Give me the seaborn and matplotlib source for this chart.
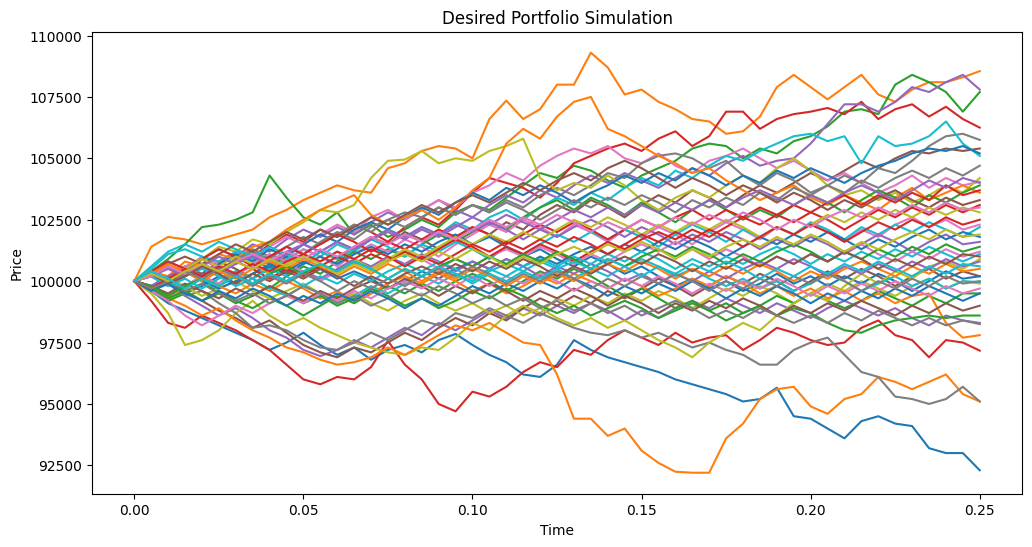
import numpy as np
import pandas as pd
import matplotlib
matplotlib.use("Agg")
import matplotlib.pyplot as plt
import seaborn as sns

# Simulated portfolio paths (prices in thousands),
# one value every 0.005 of the 0.25 horizon
p00 = [100.0, 99.6, 99.1, 98.8, 98.5, 98.2, 97.9, 97.6, 97.2, 97.5,
       97.9, 97.4, 97.0, 97.3, 96.8, 97.2, 97.4, 97.1, 97.6, 97.85,
       97.4, 97.0, 96.7, 96.2, 96.1, 96.6, 97.6, 97.2, 96.9, 96.7,
       96.5, 96.3, 96.0, 95.8, 95.6, 95.4, 95.1, 95.2, 95.66, 94.5,
       94.4, 94.0, 93.6, 94.3, 94.5, 94.2, 94.1, 93.2, 93.0, 93.0,
       92.3]
p01 = [100.0, 101.4, 101.8, 101.7, 101.5, 101.7, 101.9, 102.1, 102.6, 102.9,
       103.3, 103.6, 103.9, 103.7, 103.6, 104.6, 104.8, 105.3, 105.5, 105.4,
       105.0, 106.6, 107.35, 106.6, 107.0, 108.0, 108.0, 109.3, 108.7, 107.6,
       107.8, 107.3, 107.0, 106.6, 106.5, 106.0, 106.1, 106.7, 107.9, 108.4,
       107.9, 107.4, 107.9, 108.4, 107.6, 107.3, 107.8, 108.1, 108.1, 108.3,
       108.55]
p02 = [100.0, 100.4, 100.9, 101.5, 102.2, 102.3, 102.5, 102.8, 104.3, 103.4,
       102.6, 102.3, 102.8, 101.9, 102.3, 101.8, 102.1, 102.5, 102.2, 102.8,
       103.1, 102.9, 103.4, 103.9, 104.4, 104.2, 104.7, 104.5, 104.1, 103.8,
       104.3, 104.6, 104.9, 105.4, 105.6, 105.5, 105.0, 105.4, 105.2, 105.7,
       105.9, 106.3, 106.9, 107.0, 106.8, 108.0, 108.4, 108.1, 107.7, 106.9,
       107.7]
p03 = [100.0, 100.3, 99.9, 100.4, 100.9, 100.6, 101.2, 101.0, 101.5, 101.9,
       101.6, 102.1, 101.8, 102.3, 102.0, 101.6, 102.2, 102.6, 102.3, 102.9,
       103.6, 104.2, 104.0, 103.8, 103.4, 104.0, 104.8, 105.1, 105.4, 105.6,
       105.3, 105.8, 106.1, 105.5, 105.9, 106.9, 106.9, 106.2, 106.6, 106.8,
       106.9, 107.05, 106.8, 107.3, 106.6, 107.0, 107.2, 106.7, 107.1, 106.6,
       106.25]
p04 = [100.0, 100.2, 100.6, 100.3, 100.9, 101.3, 101.0, 101.5, 101.2, 101.7,
       102.1, 101.8, 102.2, 101.9, 102.4, 102.8, 102.5, 102.9, 103.3, 102.9,
       102.6, 103.1, 103.5, 103.2, 103.7, 103.4, 103.9, 104.3, 104.0, 104.4,
       104.1, 103.8, 104.2, 104.6, 104.3, 104.8, 105.1, 104.7, 104.9, 105.0,
       105.6, 106.4, 107.2, 107.2, 106.9, 107.3, 107.9, 107.7, 108.1, 108.4,
       107.8]
p05 = [100.0, 99.8, 100.2, 100.6, 100.3, 100.8, 100.5, 100.1, 100.6, 101.0,
       100.7, 101.2, 100.9, 101.4, 101.8, 101.5, 102.0, 101.7, 101.3, 101.8,
       102.2, 101.9, 102.4, 102.1, 102.7, 103.1, 102.8, 103.3, 103.0, 102.6,
       103.1, 103.5, 103.2, 103.7, 103.4, 103.0, 103.5, 103.9, 103.6, 104.0,
       104.4, 104.1, 104.5, 104.9, 104.6, 105.0, 105.3, 105.2, 105.4, 105.3,
       105.4]
p06 = [100.0, 100.3, 100.8, 100.5, 101.0, 100.7, 101.2, 100.9, 101.4, 101.8,
       101.5, 101.9, 102.3, 102.0, 102.6, 102.9, 102.5, 102.9, 103.3, 103.0,
       103.6, 103.9, 104.4, 104.1, 104.7, 105.1, 105.4, 105.2, 105.5, 105.0,
       104.8, 105.2, 104.7, 104.4, 104.9, 105.1, 105.4, 105.0, 104.6, 104.9,
       104.5, 104.1, 104.4, 104.0, 103.6, 103.9, 104.3, 103.8, 104.2, 103.9,
       104.05]
p07 = [100.0, 100.2, 99.8, 100.3, 100.7, 100.4, 100.9, 101.3, 101.0, 101.4,
       101.8, 101.5, 101.9, 102.3, 102.0, 102.5, 102.8, 102.6, 103.0, 102.7,
       103.1, 102.8, 103.3, 103.0, 103.5, 103.8, 103.5, 103.9, 104.4, 104.2,
       104.8, 105.1, 105.2, 105.0, 104.6, 104.9, 104.3, 103.9, 104.4, 104.1,
       103.6, 103.9, 104.3, 104.0, 104.6, 104.4, 104.9, 105.5, 105.9, 106.0,
       105.75]
p08 = [100.0, 100.3, 100.0, 100.5, 100.9, 101.4, 101.2, 101.7, 101.5, 102.0,
       102.4, 102.9, 102.8, 103.1, 104.2, 104.9, 104.95, 105.3, 104.8, 105.0,
       104.9, 105.3, 105.5, 105.8, 104.2, 103.7, 104.0, 103.8, 104.3, 103.9,
       103.3, 102.9, 103.4, 103.7, 103.4, 103.9, 104.3, 104.0, 104.6, 105.0,
       104.5, 103.9, 103.5, 103.7, 103.3, 103.6, 103.2, 103.5, 103.9, 103.6,
       104.2]
p09 = [100.0, 100.5, 101.1, 101.3, 101.0, 100.8, 101.2, 100.9, 100.5, 100.9,
       101.3, 101.0, 101.5, 101.2, 101.7, 102.1, 101.8, 102.2, 101.9, 102.4,
       102.1, 102.6, 102.9, 102.5, 103.0, 103.4, 103.1, 103.6, 103.3, 103.8,
       104.2, 103.9, 104.5, 104.2, 104.7, 105.1, 104.9, 105.3, 105.6, 105.9,
       106.0, 105.7, 105.9, 104.8, 105.9, 105.5, 105.6, 105.9, 106.5, 105.6,
       105.1]
p10 = [100.0, 99.7, 100.1, 100.5, 100.2, 100.7, 101.1, 100.8, 101.3, 101.0,
       101.5, 101.9, 101.6, 102.1, 102.4, 102.1, 102.6, 103.0, 102.7, 103.2,
       103.6, 103.3, 103.8, 103.5, 103.9, 103.6, 103.2, 103.6, 103.9, 104.3,
       104.0, 104.4, 104.1, 104.6, 104.3, 103.9, 104.3, 104.0, 104.5, 104.2,
       104.6, 104.3, 104.0, 104.4, 104.7, 104.9, 105.2, 105.4, 105.3, 105.5,
       105.2]
p11 = [100.0, 100.4, 100.2, 100.8, 100.6, 101.1, 100.9, 101.4, 101.6, 102.1,
       102.5, 102.9, 103.2, 103.5, 102.7, 102.3, 102.6, 102.9, 102.5, 103.0,
       103.7, 104.2, 105.6, 106.2, 105.8, 106.7, 107.3, 107.5, 106.2, 105.9,
       105.5, 105.1, 104.8, 104.4, 104.6, 104.1, 103.7, 103.3, 103.6, 103.9,
       103.4, 103.1, 103.5, 103.2, 102.9, 103.4, 103.8, 103.3, 103.6, 103.9,
       103.6]
p12 = [100.0, 99.7, 99.4, 99.8, 100.2, 99.9, 100.4, 100.1, 99.7, 100.2,
       100.6, 100.3, 100.8, 101.2, 100.9, 101.3, 101.0, 101.5, 101.9, 101.6,
       102.0, 102.4, 102.1, 102.6, 103.0, 103.3, 102.9, 103.4, 103.1, 102.7,
       103.2, 102.8, 102.4, 102.9, 103.3, 102.9, 102.5, 102.9, 102.6, 103.1,
       103.5, 103.2, 102.8, 103.3, 103.7, 103.4, 103.0, 103.5, 103.2, 103.6,
       103.9]
p13 = [100.0, 99.2, 98.3, 98.1, 98.6, 98.3, 98.0, 97.6, 97.2, 96.6,
       96.0, 95.8, 96.1, 96.0, 96.5, 97.57, 96.6, 96.0, 95.0, 94.7,
       95.5, 95.3, 95.7, 96.3, 96.7, 96.5, 97.2, 97.0, 97.6, 98.0,
       97.7, 97.4, 97.9, 97.5, 97.7, 97.8, 97.2, 97.6, 98.1, 97.9,
       97.6, 97.4, 97.5, 98.1, 98.4, 97.8, 97.6, 96.9, 97.6, 97.5,
       97.17]
p14 = [100.0, 99.6, 99.9, 99.4, 99.0, 98.6, 98.9, 98.5, 98.0, 97.7,
       97.2, 96.95, 97.2, 97.6, 97.3, 97.7, 98.1, 97.8, 98.3, 98.0,
       98.4, 98.8, 98.5, 98.9, 98.6, 99.0, 98.7, 99.1, 98.8, 98.4,
       98.8, 98.5, 98.9, 99.2, 98.9, 99.3, 99.0, 98.7, 99.1, 98.8,
       98.5, 98.9, 99.2, 98.9, 98.6, 98.9, 98.5, 98.2, 98.6, 98.4,
       98.3]
p15 = [100.0, 99.6, 99.3, 99.6, 99.2, 98.8, 98.5, 98.1, 98.4, 97.9,
       97.4, 97.1, 96.9, 97.3, 97.1, 97.5, 97.9, 97.6, 98.1, 98.5,
       98.2, 98.7, 98.4, 98.9, 99.3, 99.0, 99.4, 99.1, 99.6, 99.3,
       99.7, 100.1, 99.8, 99.4, 99.8, 100.2, 99.9, 100.3, 100.0, 99.6,
       100.0, 100.4, 100.1, 100.5, 100.2, 99.8, 100.2, 100.5, 100.1, 100.4,
       100.2]
p16 = [100.0, 100.4, 100.1, 100.6, 100.9, 100.5, 100.2, 100.7, 101.1, 100.8,
       101.3, 101.0, 100.6, 101.1, 101.5, 101.2, 101.7, 101.4, 101.0, 101.5,
       101.9, 102.3, 102.0, 102.5, 102.2, 101.8, 102.3, 102.0, 101.6, 102.1,
       101.8, 102.2, 101.9, 101.5, 102.0, 102.4, 102.1, 101.7, 102.2, 101.9,
       102.3, 102.0, 101.6, 102.1, 101.8, 102.3, 102.6, 102.2, 102.5, 102.1,
       102.3]
p17 = [100.0, 100.3, 100.6, 100.2, 100.7, 100.4, 100.9, 101.2, 100.9, 101.4,
       101.1, 101.6, 102.0, 101.7, 102.2, 102.5, 102.2, 102.6, 103.0, 102.7,
       103.1, 102.8, 103.2, 102.9, 102.5, 102.9, 103.3, 103.0, 103.4, 103.1,
       103.5, 103.2, 102.8, 103.3, 103.0, 103.4, 103.1, 103.6, 103.3, 103.8,
       103.5, 103.9, 103.6, 104.1, 103.8, 104.2, 104.5, 104.2, 104.6, 104.3,
       104.7]
p18 = [100.0, 99.5, 98.7, 97.4, 97.6, 98.0, 98.7, 99.2, 98.6, 98.2,
       98.5, 98.1, 97.8, 97.5, 97.3, 97.1, 97.0, 97.3, 97.2, 97.7,
       98.3, 98.0, 98.6, 99.0, 98.7, 99.3, 99.0, 99.4, 99.1, 99.5,
       99.2, 99.6, 99.3, 98.9, 99.3, 99.7, 99.4, 99.8, 99.5, 99.1,
       99.5, 99.9, 99.6, 100.0, 99.7, 99.4, 99.8, 100.1, 99.7, 100.0,
       99.9]
p19 = [100.0, 100.6, 101.2, 101.5, 101.2, 101.6, 101.3, 101.0, 101.4, 101.1,
       100.7, 101.2, 100.9, 101.3, 101.7, 101.4, 101.0, 101.5, 101.2, 101.6,
       101.3, 100.9, 101.4, 101.1, 101.5, 101.9, 101.6, 102.0, 101.7, 102.1,
       101.8, 101.4, 101.9, 102.3, 102.0, 101.6, 102.1, 101.8, 102.2, 101.9,
       102.4, 102.1, 101.7, 102.2, 101.9, 102.3, 102.0, 102.4, 102.1, 101.8,
       102.2]
p20 = [100.0, 100.3, 99.9, 99.5, 99.8, 100.2, 99.9, 100.3, 100.6, 100.3,
       100.7, 101.0, 100.7, 101.1, 101.4, 101.1, 101.5, 101.2, 101.6, 101.9,
       101.5, 101.8, 101.4, 101.0, 101.3, 100.9, 100.6, 101.0, 100.7, 100.3,
       100.6, 100.2, 99.8, 100.1, 99.7, 100.0, 99.6, 99.9, 100.3, 99.9,
       100.2, 99.8, 100.2, 99.9, 100.3, 100.0, 99.6, 100.0, 100.4, 100.1,
       100.2]
p21 = [100.0, 99.7, 99.3, 99.0, 98.6, 98.9, 98.4, 98.0, 97.7, 97.3,
       97.1, 96.8, 96.6, 96.7, 96.9, 97.3, 97.0, 97.4, 97.8, 98.2,
       98.0, 98.3, 97.9, 97.5, 97.4, 96.2, 94.4, 94.4, 93.7, 94.0,
       93.1, 92.6, 92.24, 92.2, 92.2, 93.6, 94.2, 95.2, 95.6, 95.7,
       94.9, 94.6, 95.2, 95.4, 96.1, 95.9, 95.6, 95.9, 96.2, 95.4,
       95.1]
p22 = [100.0, 99.6, 99.2, 99.5, 99.9, 99.6, 99.2, 98.9, 99.3, 99.0,
       98.6, 99.0, 99.4, 99.1, 99.5, 99.8, 99.5, 99.9, 99.6, 100.0,
       100.3, 100.0, 99.6, 100.0, 100.4, 100.1, 100.5, 100.2, 99.8, 99.4,
       99.7, 99.3, 98.9, 99.2, 98.8, 99.1, 98.7, 99.0, 99.4, 99.1,
       99.5, 99.2, 98.9, 99.2, 99.6, 99.3, 99.0, 99.4, 99.1, 99.5,
       99.5]
p23 = [100.0, 100.4, 100.8, 100.5, 100.9, 101.3, 101.0, 100.6, 101.0, 101.4,
       101.1, 101.5, 101.9, 101.6, 101.2, 101.6, 101.3, 101.7, 102.1, 101.8,
       102.2, 101.9, 101.5, 101.9, 102.3, 102.0, 102.4, 102.1, 101.7, 102.1,
       102.5, 102.2, 102.6, 102.9, 102.5, 102.9, 102.6, 103.0, 102.7, 103.1,
       102.8, 103.2, 103.5, 103.1, 103.5, 103.2, 103.6, 103.3, 103.9, 103.5,
       103.7]
p24 = [100.0, 100.2, 99.8, 100.2, 100.6, 100.3, 100.7, 101.0, 100.7, 101.1,
       101.5, 101.2, 101.6, 101.3, 101.7, 102.1, 101.8, 102.2, 101.9, 102.3,
       102.0, 102.4, 102.1, 101.7, 102.1, 101.8, 102.2, 102.5, 102.2, 101.8,
       102.2, 101.9, 101.5, 101.9, 101.6, 102.0, 101.7, 101.3, 101.7, 101.4,
       101.8, 101.5, 101.1, 101.5, 101.9, 101.6, 101.2, 101.6, 101.9, 101.5,
       101.6]
p25 = [100.0, 100.3, 100.7, 101.0, 100.7, 101.1, 101.5, 101.2, 101.6, 102.0,
       101.7, 102.1, 101.8, 102.2, 102.6, 102.3, 102.7, 103.1, 102.8, 103.2,
       103.5, 103.2, 103.6, 104.0, 103.7, 104.1, 104.4, 104.1, 104.6, 104.9,
       104.6, 104.2, 103.8, 104.2, 103.9, 103.5, 103.9, 103.6, 103.2, 103.6,
       103.3, 102.9, 103.3, 103.0, 103.4, 103.7, 103.3, 103.0, 103.4, 103.1,
       103.3]
p26 = [100.0, 99.7, 100.1, 99.8, 100.2, 99.9, 100.3, 100.6, 100.3, 100.7,
       100.4, 100.0, 100.4, 100.8, 100.5, 100.9, 101.2, 100.9, 100.5, 100.9,
       100.6, 101.0, 101.3, 101.0, 101.4, 101.1, 100.7, 101.1, 100.8, 101.2,
       101.5, 101.2, 101.6, 101.3, 100.9, 101.3, 101.0, 100.6, 101.0, 100.7,
       101.1, 100.8, 101.2, 101.5, 101.1, 100.8, 101.2, 100.9, 101.3, 101.0,
       101.2]
p27 = [100.0, 99.7, 99.9, 99.4, 99.6, 99.1, 98.7, 98.1, 98.2, 98.0,
       97.6, 97.3, 97.2, 97.5, 97.9, 97.6, 98.0, 98.4, 98.2, 98.7,
       98.5, 98.9, 98.6, 98.3, 98.7, 98.4, 98.1, 97.9, 97.8, 98.0,
       97.7, 97.9, 97.6, 97.3, 97.5, 97.2, 97.0, 96.6, 96.6, 97.2,
       97.5, 97.7, 97.0, 96.3, 96.1, 95.3, 95.2, 95.0, 95.2, 95.7,
       95.1]
p28 = [100.0, 99.7, 100.1, 99.8, 99.4, 99.7, 100.0, 99.6, 99.3, 99.6,
       99.9, 99.5, 99.2, 99.5, 99.1, 98.8, 99.2, 99.5, 99.1, 98.8,
       99.1, 98.7, 99.0, 98.6, 98.9, 98.5, 98.2, 98.5, 98.1, 98.4,
       98.0, 97.6, 97.3, 96.9, 97.5, 97.9, 98.3, 98.0, 98.6, 99.1,
       99.5, 99.2, 99.8, 100.3, 99.9, 100.4, 100.1, 100.6, 100.8, 100.5,
       100.9]
p29 = [100.0, 100.3, 99.9, 100.2, 100.5, 100.2, 99.8, 100.1, 99.7, 99.4,
       99.8, 99.5, 99.1, 99.4, 99.8, 99.5, 99.9, 100.2, 99.9, 100.3,
       100.0, 100.4, 100.7, 100.4, 100.8, 100.5, 100.1, 100.5, 100.2, 100.6,
       100.9, 100.6, 100.2, 100.5, 100.1, 99.8, 100.1, 99.7, 100.0, 99.6,
       99.9, 100.3, 100.0, 99.6, 99.9, 100.2, 99.8, 100.1, 99.7, 100.0,
       99.96]
p30 = [100.0, 99.8, 100.1, 100.4, 100.0, 99.7, 100.0, 100.3, 100.7, 100.4,
       100.8, 100.5, 100.1, 100.4, 100.1, 99.7, 100.0, 100.4, 100.1, 100.5,
       100.8, 100.5, 100.9, 100.6, 101.0, 100.7, 101.1, 101.4, 101.1, 101.5,
       101.2, 101.6, 101.3, 101.7, 101.4, 101.0, 101.4, 101.8, 101.5, 101.9,
       101.6, 102.0, 101.7, 101.3, 101.7, 101.4, 101.8, 102.1, 101.7, 102.0,
       101.8]
p31 = [100.0, 99.8, 99.4, 99.7, 100.1, 99.8, 99.5, 99.9, 99.6, 100.0,
       99.7, 99.3, 99.6, 99.2, 99.5, 99.9, 100.2, 99.9, 100.3, 100.0,
       99.6, 99.9, 99.5, 99.8, 100.2, 99.9, 100.3, 100.0, 99.7, 100.1,
       99.8, 99.4, 99.7, 100.1, 99.8, 100.2, 99.9, 99.5, 99.8, 99.4,
       99.7, 99.3, 99.6, 99.2, 99.5, 99.1, 99.4, 99.5, 98.3, 97.7,
       97.8]
p32 = [100.0, 99.7, 99.3, 99.6, 99.2, 99.5, 99.1, 99.4, 99.8, 99.5,
       99.1, 99.4, 99.0, 99.3, 99.7, 99.4, 99.0, 99.3, 98.9, 99.2,
       99.6, 99.3, 99.7, 99.4, 99.0, 98.7, 99.0, 98.6, 98.9, 99.2,
       98.9, 98.5, 98.8, 99.1, 98.8, 98.4, 98.7, 99.0, 98.6, 98.9,
       98.7, 98.3, 98.0, 97.9, 98.2, 98.4, 98.5, 98.6, 98.5, 98.6,
       98.6]
p33 = [100.0, 100.3, 100.0, 100.4, 100.1, 100.5, 100.8, 100.5, 100.1, 100.5,
       100.2, 100.6, 101.0, 100.7, 101.1, 100.8, 101.2, 100.9, 101.3, 101.7,
       101.4, 101.0, 101.4, 101.1, 101.5, 101.2, 100.8, 101.2, 101.6, 101.3,
       101.7, 102.0, 101.7, 102.1, 101.8, 102.2, 102.6, 102.3, 102.7, 102.4,
       102.8, 102.5, 102.1, 102.5, 102.9, 102.6, 103.0, 102.7, 103.1, 102.8,
       103.1]
p34 = [100.0, 99.8, 100.2, 100.5, 100.2, 100.6, 100.3, 99.9, 100.3, 100.0,
       100.4, 100.1, 100.5, 100.9, 100.6, 101.0, 100.7, 101.1, 100.8, 100.4,
       100.8, 100.5, 100.9, 100.6, 100.2, 100.6, 100.3, 100.7, 100.4, 100.0,
       100.3, 99.9, 100.3, 100.0, 100.4, 100.1, 100.5, 100.8, 100.5, 100.9,
       100.6, 100.2, 100.6, 100.3, 100.7, 100.4, 100.8, 100.5, 100.9, 100.6,
       100.8]
p35 = [100.0, 99.8, 99.5, 99.9, 99.6, 99.3, 99.7, 99.4, 99.8, 99.5,
       99.2, 99.6, 99.3, 99.7, 100.0, 99.7, 100.1, 99.8, 99.4, 99.8,
       99.5, 99.9, 99.6, 99.2, 99.6, 99.3, 99.7, 99.4, 99.0, 99.4,
       99.1, 98.7, 99.1, 98.8, 99.2, 98.9, 99.3, 99.0, 98.6, 99.0,
       98.7, 99.1, 98.8, 99.2, 98.9, 98.6, 99.0, 98.7, 99.1, 98.8,
       99.0]
p36 = [100.0, 99.6, 99.2, 98.6, 98.2, 98.6, 99.0, 98.7, 99.1, 99.4,
       99.1, 99.5, 99.2, 99.6, 99.3, 99.7, 100.0, 99.7, 100.1, 99.8,
       100.2, 99.8, 100.2, 99.9, 100.3, 100.0, 99.6, 100.0, 99.7, 100.1,
       99.8, 100.2, 99.9, 99.5, 99.9, 99.6, 100.0, 99.7, 100.1, 99.8,
       99.4, 99.8, 99.5, 99.9, 99.6, 100.0, 99.7, 99.4, 99.8, 99.5,
       99.7]
p37 = [100.0, 99.7, 100.0, 99.6, 99.9, 99.5, 99.2, 99.5, 99.1, 99.4,
       99.8, 99.5, 99.1, 99.4, 99.0, 99.3, 99.7, 99.4, 99.8, 99.5,
       99.1, 99.4, 99.0, 99.3, 98.9, 99.2, 98.8, 99.1, 98.7, 99.0,
       98.6, 98.9, 99.2, 98.9, 98.5, 98.8, 98.5, 98.9, 98.6, 98.3,
       98.6, 98.3, 98.7, 98.4, 98.8, 98.5, 98.2, 98.5, 98.2, 98.4,
       98.25]
p38 = [100.0, 100.4, 100.1, 100.5, 100.9, 100.6, 101.0, 100.7, 100.3, 100.7,
       101.1, 100.8, 101.2, 100.9, 100.5, 100.9, 101.3, 101.0, 101.4, 101.8,
       101.5, 101.9, 101.6, 102.0, 101.7, 102.1, 102.5, 102.2, 102.6, 102.3,
       101.9, 102.3, 102.0, 102.4, 102.1, 102.5, 102.2, 101.8, 102.2, 101.9,
       102.3, 102.7, 102.4, 102.8, 102.5, 102.9, 102.6, 103.0, 102.7, 103.0,
       102.8]
p39 = [100.0, 100.2, 99.8, 100.1, 99.7, 100.1, 100.4, 100.1, 100.5, 100.2,
       99.8, 100.2, 99.9, 100.3, 100.0, 100.4, 100.7, 100.4, 100.8, 100.5,
       100.1, 100.5, 100.2, 100.6, 100.9, 100.6, 101.0, 100.7, 101.1, 100.8,
       101.2, 100.9, 100.5, 100.9, 100.6, 101.0, 100.7, 101.1, 101.4, 101.1,
       100.7, 101.1, 100.8, 101.2, 100.9, 101.3, 101.0, 101.4, 101.1, 100.8,
       101.1]
p40 = [100.0, 99.6, 99.9, 99.5, 99.2, 99.6, 99.3, 99.7, 99.4, 99.0,
       99.4, 99.1, 99.5, 99.2, 99.6, 99.3, 98.9, 99.3, 99.0, 99.4,
       99.8, 99.5, 99.9, 99.6, 100.0, 99.7, 100.1, 99.8, 99.4, 99.8,
       99.5, 99.9, 99.6, 100.0, 99.7, 99.3, 99.7, 99.4, 99.8, 99.5,
       99.1, 99.5, 99.2, 99.6, 99.3, 99.7, 99.4, 99.8, 99.5, 99.2,
       99.5]
p41 = [100.0, 100.3, 100.7, 100.4, 100.0, 100.4, 100.1, 100.5, 100.8, 100.5,
       100.9, 100.6, 100.2, 100.6, 100.3, 100.7, 100.4, 100.0, 100.4, 100.1,
       100.5, 100.2, 99.8, 100.2, 99.9, 100.3, 100.0, 100.4, 100.7, 100.4,
       100.8, 100.5, 100.1, 100.5, 100.2, 100.6, 100.3, 100.7, 100.4, 100.0,
       100.4, 100.1, 100.5, 100.8, 100.5, 100.2, 100.6, 100.3, 100.7, 100.4,
       100.5]
p42 = [100.0, 99.8, 99.4, 99.8, 100.1, 99.8, 100.2, 99.9, 100.3, 100.6,
       100.3, 100.7, 100.4, 100.8, 100.5, 100.1, 100.5, 100.2, 100.6, 100.9,
       100.6, 101.0, 100.7, 101.1, 100.8, 101.2, 100.9, 100.5, 100.9, 100.6,
       101.0, 101.3, 101.0, 101.4, 101.1, 100.7, 101.1, 100.8, 101.2, 101.5,
       101.2, 100.8, 101.2, 100.9, 101.3, 101.0, 101.4, 101.1, 101.5, 101.2,
       101.4]
p43 = [100.0, 99.7, 100.1, 100.5, 100.2, 100.6, 100.3, 100.7, 100.4, 100.8,
       101.1, 100.8, 101.2, 100.9, 101.3, 101.0, 100.6, 101.0, 100.7, 101.1,
       101.5, 101.2, 101.6, 101.3, 101.7, 101.4, 101.8, 101.5, 101.1, 101.5,
       101.9, 101.6, 102.0, 101.7, 102.1, 101.8, 101.4, 101.8, 102.2, 101.9,
       102.3, 102.0, 101.6, 102.0, 102.4, 102.1, 102.5, 102.2, 102.6, 102.3,
       102.5]
p44 = [100.0, 100.2, 100.5, 100.2, 100.6, 101.0, 100.7, 101.1, 100.8, 101.2,
       101.5, 101.2, 101.6, 101.3, 101.7, 102.0, 101.7, 102.1, 101.8, 102.2,
       102.6, 102.3, 102.7, 102.4, 102.1, 102.5, 102.9, 102.6, 103.0, 102.7,
       103.1, 102.8, 103.2, 102.9, 103.3, 103.0, 103.4, 103.7, 103.4, 103.1,
       103.5, 103.2, 103.6, 103.9, 103.6, 103.3, 103.7, 104.1, 103.8, 104.2,
       104.0]
p45 = [100.0, 100.3, 99.9, 100.2, 100.6, 100.3, 99.9, 100.3, 100.0, 100.4,
       100.1, 100.5, 100.2, 99.8, 100.2, 99.9, 100.3, 100.6, 100.3, 100.7,
       100.4, 100.8, 100.5, 100.9, 100.6, 100.2, 100.6, 100.3, 100.7, 101.0,
       100.7, 101.1, 100.8, 100.4, 100.8, 100.5, 100.9, 100.6, 101.0, 100.7,
       101.1, 100.8, 101.2, 100.9, 100.5, 100.9, 100.6, 101.0, 100.7, 101.1,
       101.0]
p46 = [100.0, 100.2, 100.6, 100.3, 100.7, 100.4, 100.8, 101.1, 100.8, 101.2,
       100.9, 101.3, 101.0, 101.4, 101.8, 101.5, 101.9, 101.6, 102.0, 101.7,
       102.1, 102.5, 102.2, 102.6, 102.3, 102.7, 102.4, 102.0, 102.4, 102.1,
       102.5, 102.2, 102.6, 102.3, 102.7, 102.4, 102.8, 102.5, 102.1, 102.5,
       102.2, 102.6, 102.9, 102.6, 103.0, 102.7, 103.1, 102.8, 103.2, 102.9,
       103.0]
p47 = [100.0, 99.7, 100.0, 100.4, 100.1, 100.5, 100.2, 99.8, 100.2, 99.9,
       100.3, 100.0, 99.6, 100.0, 99.7, 100.1, 99.8, 100.2, 100.5, 100.2,
       100.6, 100.3, 99.9, 100.3, 100.0, 100.4, 100.1, 99.7, 100.1, 99.8,
       100.2, 99.9, 100.3, 100.0, 99.6, 100.0, 99.7, 100.1, 99.8, 100.2,
       99.9, 100.3, 100.0, 99.6, 100.0, 99.7, 100.1, 99.8, 100.2, 99.9,
       100.0]
p48 = [100.0, 100.3, 100.0, 100.4, 100.7, 100.4, 100.8, 100.5, 100.9, 100.6,
       101.0, 100.7, 100.3, 100.7, 100.4, 100.8, 101.1, 100.8, 101.2, 100.9,
       101.3, 101.0, 100.6, 101.0, 100.7, 101.1, 101.4, 101.1, 101.5, 101.2,
       101.6, 101.3, 100.9, 101.3, 101.0, 101.4, 101.7, 101.4, 101.8, 101.5,
       101.9, 101.6, 101.2, 101.6, 101.3, 101.7, 102.0, 101.7, 102.1, 101.8,
       101.9]
p49 = [100.0, 100.4, 100.1, 99.7, 100.1, 99.8, 100.2, 99.9, 100.3, 100.0,
       100.4, 100.7, 100.4, 100.8, 100.5, 100.1, 100.5, 100.2, 100.6, 100.3,
       99.9, 100.3, 100.0, 100.4, 100.1, 100.5, 100.8, 100.5, 100.9, 100.6,
       100.2, 100.6, 100.3, 100.7, 100.4, 100.8, 100.5, 100.1, 100.5, 100.2,
       100.6, 100.3, 100.7, 100.4, 100.8, 100.5, 100.2, 100.6, 100.3, 100.7,
       100.6]

paths = [p00, p01, p02, p03, p04, p05, p06, p07, p08, p09,
         p10, p11, p12, p13, p14, p15, p16, p17, p18, p19,
         p20, p21, p22, p23, p24, p25, p26, p27, p28, p29,
         p30, p31, p32, p33, p34, p35, p36, p37, p38, p39,
         p40, p41, p42, p43, p44, p45, p46, p47, p48, p49]

HORIZON = 0.25

# long format for seaborn
rows = []
for i, path in enumerate(paths):
    times = np.linspace(0, HORIZON, len(path))
    for t, v in zip(times, path):
        rows.append({'Time': t, 'Price': v * 1000, 'Path': f'sim{i:02d}'})
df = pd.DataFrame(rows)

labels = [f'sim{i:02d}' for i in range(len(paths))]
palette = sns.color_palette('tab10', len(paths))

plt.figure(figsize=(12, 6))
sns.lineplot(data=df, x='Time', y='Price', hue='Path', hue_order=labels,
             palette=palette, estimator=None, errorbar=None, sort=False,
             linewidth=1.5, legend=False)
plt.title('Desired Portfolio Simulation')
plt.xlabel('Time')
plt.ylabel('Price')
plt.savefig('out.png', bbox_inches='tight')
